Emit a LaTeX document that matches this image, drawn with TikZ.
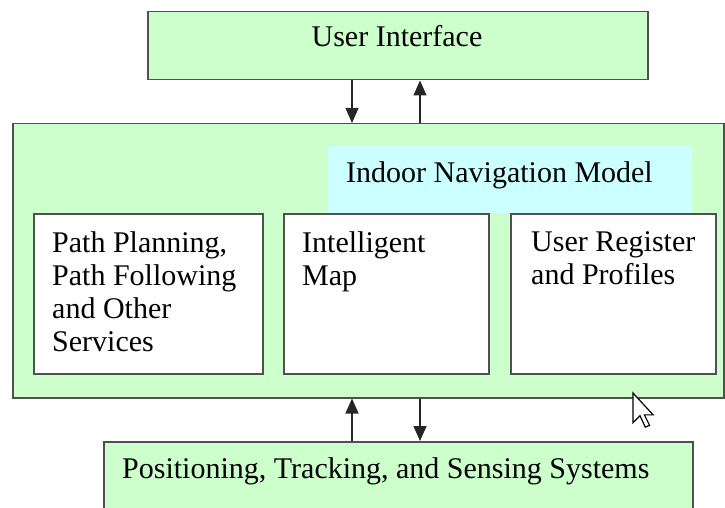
\documentclass[tikz,border=0pt]{standalone}
\usepackage{fontspec}
\setmainfont{Liberation Serif}
\usetikzlibrary{arrows.meta}

\definecolor{navgreen}{HTML}{CCFFCC}
\definecolor{modelcyan}{HTML}{CCFFFF}
\definecolor{boxline}{HTML}{505050}

\tikzset{
  greenbox/.style={draw=boxline, line width=1.5pt, fill=navgreen, inner sep=0pt, anchor=north west},
  whitebox/.style={draw=boxline, line width=1.5pt, fill=white, inner sep=0pt, anchor=north west},
  txt/.style={font=\fontsize{30}{33}\selectfont, align=left, inner sep=0pt},
  link/.style={-{Triangle[length=15pt,width=13pt]}, line width=1.3pt, draw=black!85},
}

\begin{document}
\begin{tikzpicture}[x=1pt, y=-1pt]
  \useasboundingbox (0,0) rectangle (725,508);
  \clip (0,0) rectangle (725,508);
%  \draw [help lines] (0,0) grid [step=50] (725,508);

  % layers
  \node [greenbox, minimum width=500pt, minimum height=68pt] (ui) at (147,11) {};
  \node [txt, anchor=base] (uiT) at (397,47) {User Interface};

  \node [greenbox, minimum width=711pt, minimum height=274pt] (nav) at (12,123) {};
  \node [fill=modelcyan, anchor=north west, minimum width=364pt, minimum height=67pt] (model) at (328,146) {};
  \node [txt, anchor=base west] (modelT) at (346,182) {Indoor Navigation Model};

  \node [greenbox, minimum width=589pt, minimum height=80pt] (pos) at (103,441) {};
  \node [txt, anchor=base west] (posT) at (122,478) {Positioning, Tracking, and Sensing Systems};

  % parts of the model
  \node [whitebox, minimum width=229pt, minimum height=160pt] (paths) at (33,213) {};
  \node [whitebox, minimum width=205pt, minimum height=160pt] (map) at (283,213) {};
  \node [whitebox, minimum width=205pt, minimum height=160pt] (users) at (510,213) {};

  \node [txt, anchor=north west] (pathsT) at (52,231.5) {Path Planning,\\Path Following\\and Other\\Services};
  \node [txt, anchor=north west] (mapT) at (302,231.5) {Intelligent\\Map};
  \node [txt, anchor=north west] (usersT) at (531,231.5) {User Register\\and Profiles};

  % data flow
  \coordinate (lft) at (352,0);
  \coordinate (rgt) at (420,0);
  \draw [link] (ui.south -| lft) -- (nav.north -| lft);
  \draw [link] (nav.north -| rgt) -- (ui.south -| rgt);
  \draw [link] (pos.north -| lft) -- (nav.south -| lft);
  \draw [link] (nav.south -| rgt) -- (pos.north -| rgt);

  % mouse pointer
  \draw [fill=white, line width=1.2pt, line join=miter, shift={(633,393)}, scale=1.75]
    (0,0) -- (0,17) -- (4,13) -- (7,19.5) -- (9.5,18.5) -- (6.5,12.5) -- (11.5,12.5) -- cycle;
\end{tikzpicture}
\end{document}
